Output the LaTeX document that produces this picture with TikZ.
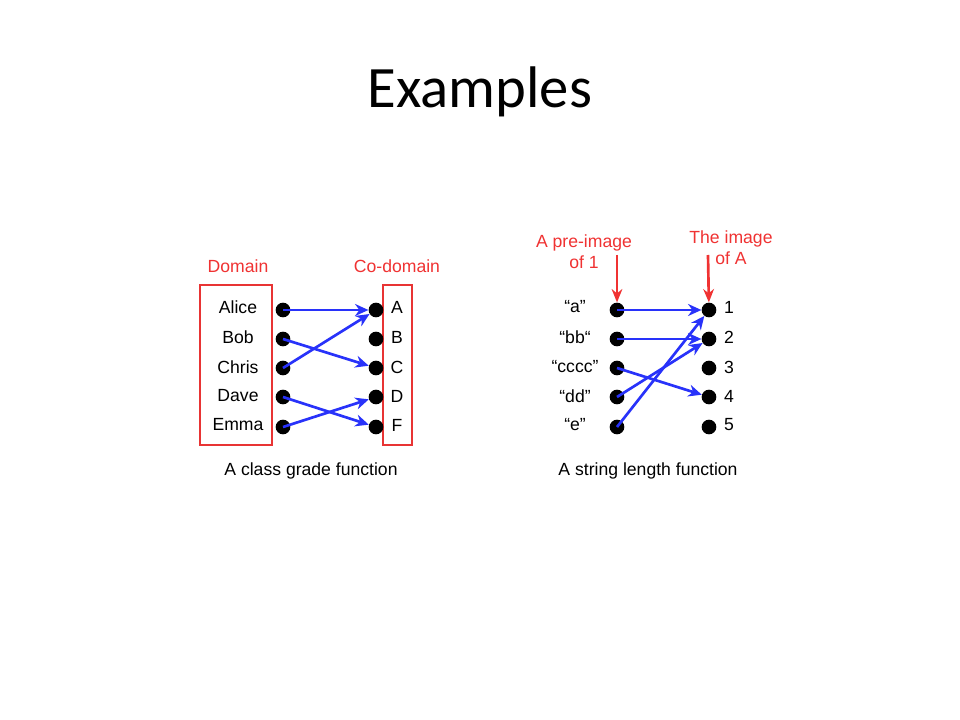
\documentclass[tikz,border=0pt]{standalone}
\usepackage{fontspec}
\setmainfont{Liberation Sans}
\newfontfamily\titlefont{Carlito}
\usetikzlibrary{arrows.meta}
\definecolor{lblred}{RGB}{240,50,50}
\definecolor{boxred}{RGB}{232,52,52}
\definecolor{arrblue}{RGB}{40,50,250}
\tikzset{
  dot/.style={circle,fill=black,inner sep=0pt,minimum size=11pt},
  item/.style={font=\fontsize{13.2}{15}\selectfont,inner sep=0pt,anchor=center},
  redlbl/.style={text=lblred,font=\fontsize{13.2}{15.75}\selectfont,align=center,inner sep=0pt},
  caption/.style={font=\fontsize{13.2}{15}\selectfont,inner sep=0pt},
  maparrow/.style={draw=arrblue,line width=2pt,-{Stealth[length=10pt,width=9pt]}},
  redarrow/.style={draw=lblred,line width=2pt,-{Stealth[length=10pt,width=8pt]}},
  setbox/.style={draw=boxred,line width=1.6pt}
}
\begin{document}
\begin{tikzpicture}[x=0.75pt,y=-0.75pt]
\useasboundingbox[fill=white] (0,0) rectangle (960,720);
\node[font=\titlefont\fontsize{44}{50}\selectfont,inner sep=0pt] (title) at (480,92) {Examples};

% ---------- left diagram ----------
\node[setbox,minimum width=54pt,minimum height=120pt,inner sep=0pt] (dombox) at (236,365) {};
\node[setbox,minimum width=22pt,minimum height=120pt,inner sep=0pt] (codbox) at (397.5,365) {};
\node[redlbl] (domlbl) at (238,266) {Domain};
\node[redlbl] (codlbl) at (397,266) {Co-domain};
\foreach \n/\t/\y in {1/Alice/307,2/Bob/337,3/Chris/367,4/Dave/396,5/Emma/425}{
  \node[item] (dn\n) at (238,\y) {\t};
}
\foreach \n/\t/\y in {1/A/307,2/B/337,3/C/367,4/D/396,5/F/425}{
  \node[item] (cn\n) at (397,\y) {\t};
}
\foreach \n/\y in {1/310,2/339,3/368,4/397,5/427}{
  \node[dot] (ld\n) at (283,\y) {};
  \node[dot] (rd\n) at (376,\y) {};
}
\draw[maparrow] (ld1.center) -- (rd1);
\draw[maparrow] (ld2.center) -- (rd3);
\draw[maparrow] (ld3.center) -- (rd1);
\draw[maparrow] (ld4.center) -- (rd5);
\draw[maparrow] (ld5.center) -- (rd4);
\node[caption] (cap1) at (311,471) {A class grade function};

% ---------- right diagram ----------
\foreach \n/\t/\y in {1/{“a”}/307,2/{“bb“}/337,3/{“cccc”}/367,4/{“dd”}/396,5/{“e”}/425}{
  \node[item] (sn\n) at (575,\y) {\t};
}
\foreach \n/\y in {1/307,2/337,3/367,4/396,5/425}{
  \node[item] (nn\n) at (729,\y) {\n};
}
\foreach \n/\y in {1/310,2/339,3/368,4/397,5/427}{
  \node[dot] (sl\n) at (617,\y) {};
  \node[dot] (sr\n) at (709,\y) {};
}
\draw[maparrow] (sl1.center) -- (sr1);
\draw[maparrow] (sl2.center) -- (sr2);
\draw[maparrow] (sl3.center) -- (sr4);
\draw[maparrow] (sl4.center) -- (sr2);
\draw[maparrow] (sl5.center) -- (sr1);
\node[redlbl] (prelbl) at (584,252) {A pre-image\\of 1};
\node[redlbl] (imglbl) at (731,248) {The image\\of A};
\coordinate (prestart) at (617,255);
\coordinate (imgstart) at (708,255);
\draw[redarrow] (prestart) -- (sl1);
\draw[redarrow] (imgstart) -- (sr1);
\node[caption] (cap2) at (648,471) {A string length function};
\end{tikzpicture}
\end{document}
